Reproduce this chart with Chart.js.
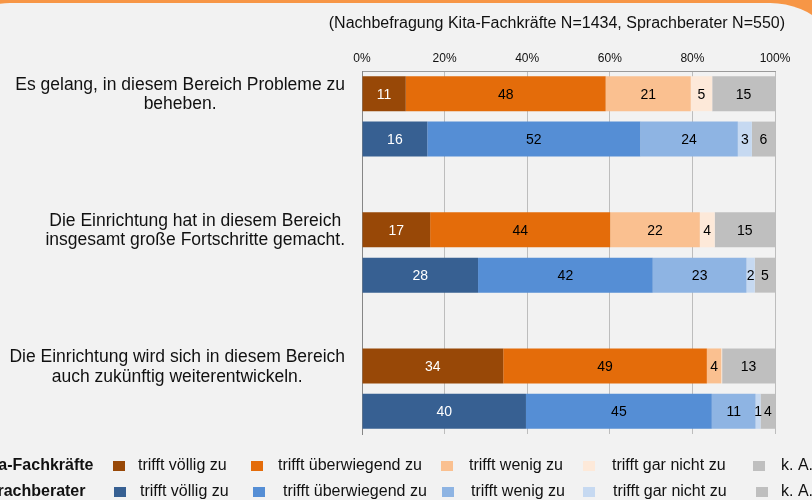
<!DOCTYPE html>
<html>
<head>
<meta charset="utf-8">
<script src="https://cdn.jsdelivr.net/npm/chart.js@4.4.1/dist/chart.umd.min.js"></script>
<style>
html, body { margin: 0; padding: 0; background: #f79646; }
#wrap { width: 812px; height: 500px; }
</style>
</head>
<body>
<div id="wrap"><canvas id="myChart" width="812" height="500"></canvas></div>
<script>
// questions (y categories), one Kita bar and one Sprachberater bar per question
var questions = [
    ['Es gelang, in diesem Bereich Probleme zu', 'beheben.'],
    ['Die Einrichtung hat in diesem Bereich', 'insgesamt große Fortschritte gemacht.'],
    ['Die Einrichtung wird sich in diesem Bereich', 'auch zukünftig weiterentwickeln.']
];
var groups = ['Kita-Fachkräfte', 'Sprachberater'];
var responses = ['trifft völlig zu', 'trifft überwiegend zu', 'trifft wenig zu', 'trifft gar nicht zu', 'k. A.'];
var subtitle = '(Nachbefragung Kita-Fachkräfte N=1434, Sprachberater N=550)';

// percentages per question
var kitaVoellig = [10.6, 16.5, 34.2];
var kitaUeberwiegend = [48.4, 43.6, 49.3];
var kitaWenig = [20.6, 21.7, 3.5];
var kitaGarNicht = [5.2, 3.6, 0.2];
var kitaKeineAngabe = [15.2, 14.6, 12.8];

var sprachVoellig = [15.8, 28.1, 39.7];
var sprachUeberwiegend = [51.6, 42.3, 45.0];
var sprachWenig = [23.6, 22.7, 10.6];
var sprachGarNicht = [3.4, 2.0, 1.2];
var sprachKeineAngabe = [5.6, 4.9, 3.5];

var kitaColors = ['#984807', '#e46c0a', '#fac090', '#fde9d9', '#bfbfbf'];
var sprachColors = ['#376092', '#558ed5', '#8eb4e3', '#c6d9f1', '#bfbfbf'];

var groupValues = [
    [kitaVoellig, kitaUeberwiegend, kitaWenig, kitaGarNicht, kitaKeineAngabe],
    [sprachVoellig, sprachUeberwiegend, sprachWenig, sprachGarNicht, sprachKeineAngabe]
];
var groupColors = [kitaColors, sprachColors];

var FONT = "'Liberation Sans', Arial, sans-serif";

// 3 slots per question (Kita, Sprach, gap), last gap dropped
var nSlots = questions.length * 3 - 1;
var slotLabels = [];
for (var i = 0; i < nSlots; i++) {
    slotLabels.push(i % 3 === 0 ? questions[i / 3].join(' ') : '');
}

var datasets = [];
groups.forEach(function (g, gi) {
    responses.forEach(function (r, ri) {
        var data = new Array(nSlots).fill(null);
        groupValues[gi][ri].forEach(function (v, qi) { data[qi * 3 + gi] = v; });
        datasets.push({
            label: g + ': ' + r,
            data: data,
            backgroundColor: groupColors[gi][ri],
            labelColor: ri === 0 ? '#ffffff' : '#000000',
            barPercentage: 0.77,
            categoryPercentage: 1,
            stack: 'all'
        });
    });
});

// orange frame + grey panel
var panelBg = {
    id: 'panelBg',
    beforeDraw: function (chart) {
        var c = chart.ctx;
        c.save();
        c.fillStyle = '#f79646';
        c.fillRect(0, 0, chart.width, chart.height);
        c.fillStyle = '#f2f2f2';
        c.beginPath();
        c.roundRect(-70, 3, chart.width + 108, chart.height + 40, 80);
        c.fill();
        c.restore();
    }
};

// values inside the bars
var barLabels = {
    id: 'barLabels',
    afterDatasetsDraw: function (chart) {
        var c = chart.ctx;
        c.save();
        c.font = '14px ' + FONT;
        c.textAlign = 'center';
        c.textBaseline = 'middle';
        chart.data.datasets.forEach(function (ds, di) {
            chart.getDatasetMeta(di).data.forEach(function (bar, i) {
                var v = ds.data[i];
                if (v === null || Math.round(v) < 1) return;
                c.fillStyle = ds.labelColor;
                c.fillText(Math.round(v), (bar.x + bar.base) / 2, bar.y + 1);
            });
        });
        c.restore();
    }
};

// question texts, subtitle and two-row legend
var texts = {
    id: 'texts',
    afterDraw: function (chart) {
        var c = chart.ctx;
        var y = chart.scales.y;
        c.save();
        c.fillStyle = '#111';
        c.textBaseline = 'middle';

        c.font = '17.5px ' + FONT;
        c.textAlign = 'center';
        questions.forEach(function (lines, qi) {
            var cy = y.getPixelForValue(qi * 3) + 1;
            var w = 0;
            lines.forEach(function (l) { w = Math.max(w, c.measureText(l).width); });
            var cx = 345 - w / 2;
            lines.forEach(function (l, li) {
                c.fillText(l, cx, cy + (li - (lines.length - 1) / 2) * 19.5);
            });
        });

        c.font = '16px ' + FONT;
        c.textAlign = 'right';
        c.fillText(subtitle, 785, 24);

        var rows = [
            { y: 466, box: [113, 251, 441, 583, 753], text: [138, 278, 469, 612, 781] },
            { y: 492, box: [114, 253, 442, 583, 756], text: [140, 283, 471, 613, 781] }
        ];
        rows.forEach(function (row, gi) {
            c.textAlign = 'left';
            c.font = 'bold 16px ' + FONT;
            c.fillStyle = '#111';
            c.fillText(groups[gi], -23, row.y);
            c.font = '16px ' + FONT;
            responses.forEach(function (r, ri) {
                c.fillStyle = groupColors[gi][ri];
                c.fillRect(row.box[ri], row.y - 5, 12, 10);
                c.fillStyle = '#111';
                c.fillText(r, row.text[ri], row.y);
            });
        });
        c.restore();
    }
};

var ctx = document.getElementById('myChart').getContext('2d');
var myChart = new Chart(ctx, {
    type: 'bar',
    data: {
        labels: slotLabels,
        datasets: datasets
    },
    options: {
        indexAxis: 'y',
        responsive: false,
        animation: false,
        layout: {
            padding: { left: 0, right: 37, top: 51, bottom: 66 }
        },
        scales: {
            x: {
                position: 'top',
                stacked: true,
                min: 0,
                max: 100,
                ticks: {
                    stepSize: 20,
                    padding: 5,
                    color: '#111',
                    font: { size: 12, family: FONT },
                    callback: function (v) { return v + '%'; }
                },
                grid: { color: '#bdbdbd', drawTicks: false },
                border: { color: '#9a9a9a' },
                afterFit: function (s) { s.height = 20; }
            },
            y: {
                stacked: true,
                grid: { display: false },
                border: { color: '#868686' },
                ticks: { display: false },
                afterFit: function (s) { s.width = 362; }
            }
        },
        plugins: {
            legend: { display: false },
            title: { display: false },
            tooltip: { enabled: false }
        }
    },
    plugins: [panelBg, barLabels, texts]
});
</script>
</body>
</html>
